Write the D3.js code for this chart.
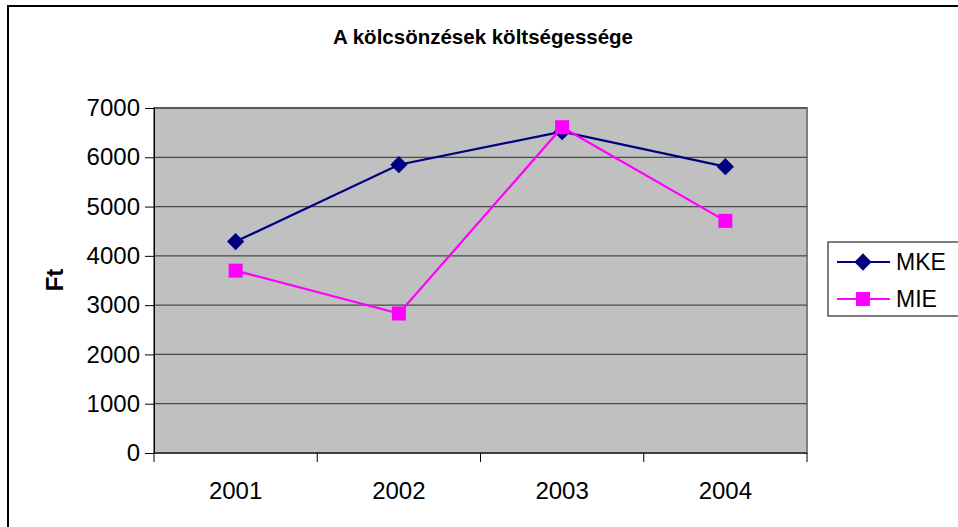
<!DOCTYPE html>
<html lang="hu">
  <head>
    <meta charset="utf-8">
    <script src="https://cdn.jsdelivr.net/npm/d3@7"></script>
    <style>
      body { margin: 0; background: #fff; }
      svg { display: block; }
      text { font-family: "Liberation Sans", Arial, sans-serif; }
    </style>
  </head>
  <body>
    <script type="text/javascript">

      // data
      var years = ["2001", "2002", "2003", "2004"];
      var mke = [4290, 5850, 6520, 5810];
      var mie = [3700, 2830, 6610, 4710];
      var yTicks = [0, 1000, 2000, 3000, 4000, 5000, 6000, 7000];
      var seriesNames = ["MKE", "MIE"];
      var seriesColors = ["#000080", "#ff00ff"];

      var svgWidth = 958;
      var svgHeight = 527;

      // plot area
      var plotLeft = 154, plotRight = 807, plotTop = 108, plotBottom = 453;

      var svg = d3.select("body")
        .append("svg")
        .attr("width", svgWidth)
        .attr("height", svgHeight);

      // outer chart frame (runs off the right and bottom edge)
      svg.append("rect")
        .attr("x", 8)
        .attr("y", 6)
        .attr("width", 980)
        .attr("height", 560)
        .attr("fill", "#fff")
        .attr("stroke", "#000")
        .attr("stroke-width", 2);

      svg.append("text")
        .attr("x", 483)
        .attr("y", 44)
        .attr("text-anchor", "middle")
        .attr("font-size", 20.5)
        .attr("font-weight", "bold")
        .text("A kölcsönzések költségessége");

      var x = d3.scaleBand().domain(years).range([plotLeft, plotRight]);
      var y = d3.scaleLinear().domain([0, 7000]).range([plotBottom, plotTop]);

      // grey plot area
      svg.append("rect")
        .attr("x", plotLeft)
        .attr("y", plotTop)
        .attr("width", plotRight - plotLeft)
        .attr("height", plotBottom - plotTop)
        .attr("fill", "#c0c0c0")
        .attr("stroke", "#808080")
        .attr("stroke-width", 2);

      // gridlines
      svg.selectAll("line.grid")
        .data(yTicks.slice(1))
        .enter().append("line")
        .attr("class", "grid")
        .attr("x1", plotLeft)
        .attr("x2", plotRight)
        .attr("y1", function(d) { return y(d); })
        .attr("y2", function(d) { return y(d); })
        .attr("stroke", "#4a4a4a")
        .attr("stroke-width", 1.3);

      // y axis
      var yAxis = svg.append("g")
        .attr("transform", "translate(" + plotLeft + ",0)")
        .call(d3.axisLeft(y).tickValues(yTicks).tickSize(9).tickPadding(5).tickFormat(d3.format("d")));
      yAxis.select(".domain").attr("stroke", "#000");
      yAxis.selectAll("text").attr("font-size", 24).attr("fill", "#000")
        .style("font-family", "'Liberation Sans', Arial, sans-serif");

      // x axis, ticks at category boundaries
      var xAxis = svg.append("g")
        .attr("transform", "translate(0," + plotBottom + ")");
      xAxis.append("line")
        .attr("x1", plotLeft).attr("x2", plotRight)
        .attr("stroke", "#000");
      var bounds = years.map(function(d) { return x(d); }).concat([plotRight]);
      xAxis.selectAll("line.tick")
        .data(bounds)
        .enter().append("line")
        .attr("class", "tick")
        .attr("x1", function(d) { return d; })
        .attr("x2", function(d) { return d; })
        .attr("y1", 0)
        .attr("y2", 9)
        .attr("stroke", "#000");
      xAxis.selectAll("text")
        .data(years)
        .enter().append("text")
        .attr("x", function(d) { return x(d) + x.bandwidth() / 2; })
        .attr("y", 46)
        .attr("text-anchor", "middle")
        .attr("font-size", 24)
        .text(function(d) { return d; });

      svg.append("text")
        .attr("transform", "translate(63,280) rotate(-90)")
        .attr("text-anchor", "middle")
        .attr("font-size", 24)
        .attr("font-weight", "bold")
        .text("Ft");

      var cx = function(d, i) { return x(years[i]) + x.bandwidth() / 2; };
      var line = d3.line().x(cx).y(function(d) { return y(d); });
      var diamond = d3.symbol().type(d3.symbolDiamond2).size(190);

      [mke, mie].forEach(function(vals, s) {
        svg.append("path")
          .datum(vals)
          .attr("d", line)
          .attr("fill", "none")
          .attr("stroke", seriesColors[s])
          .attr("stroke-width", 2.2);
        if (s === 0) {
          svg.selectAll("path.mk")
            .data(vals)
            .enter().append("path")
            .attr("class", "mk")
            .attr("transform", function(d, i) { return "translate(" + cx(d, i) + "," + y(d) + ")"; })
            .attr("d", diamond)
            .attr("fill", seriesColors[s]);
        } else {
          svg.selectAll("rect.mi")
            .data(vals)
            .enter().append("rect")
            .attr("class", "mi")
            .attr("x", function(d, i) { return cx(d, i) - 7; })
            .attr("y", function(d) { return y(d) - 7; })
            .attr("width", 14)
            .attr("height", 14)
            .attr("fill", seriesColors[s]);
        }
      });

      // legend (clipped by the right edge)
      var legend = svg.append("g");
      legend.append("rect")
        .attr("x", 828)
        .attr("y", 242)
        .attr("width", 150)
        .attr("height", 74)
        .attr("fill", "#fff")
        .attr("stroke", "#000")
        .attr("stroke-width", 1);
      seriesNames.forEach(function(name, i) {
        var ly = 262 + i * 37;
        legend.append("line")
          .attr("x1", 837).attr("x2", 890)
          .attr("y1", ly).attr("y2", ly)
          .attr("stroke", seriesColors[i])
          .attr("stroke-width", 2.2);
        if (i === 0) {
          legend.append("path")
            .attr("transform", "translate(863," + ly + ")")
            .attr("d", diamond)
            .attr("fill", seriesColors[i]);
        } else {
          legend.append("rect")
            .attr("x", 856).attr("y", ly - 7)
            .attr("width", 14).attr("height", 14)
            .attr("fill", seriesColors[i]);
        }
        legend.append("text")
          .attr("x", 896)
          .attr("y", ly + 8)
          .attr("font-size", 23)
          .text(name);
      });
    </script>
  </body>
</html>
